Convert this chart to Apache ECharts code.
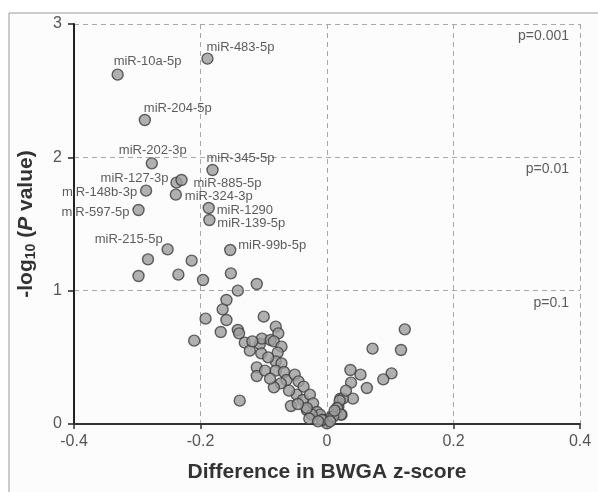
<!DOCTYPE html>
<html>
<head>
<meta charset="UTF-8" />
<title>BWGA volcano plot</title>
<script src="https://cdn.jsdelivr.net/npm/echarts@6/dist/echarts.min.js"></script>
<style>
  html, body { margin:0; padding:0; width:100%; height:100%; background:#fff; overflow:hidden; }
  #chart { width:598px; height:492px; }
</style>
</head>
<body>
<div id="chart"></div>
<script>
/* ==== data ==== */
const labelNames = ['miR-10a-5p','miR-483-5p','miR-204-5p','miR-202-3p','miR-345-5p','miR-127-3p','miR-885-5p',
  'miR-148b-3p','miR-324-3p','miR-597-5p','miR-1290','miR-139-5p','miR-215-5p','miR-99b-5p'];
const labelX = [-0.331,-0.189,-0.288,-0.277,-0.181,-0.238,-0.230,-0.286,-0.239,-0.298,-0.187,-0.186,-0.252,-0.153];
const labelY = [2.62,2.74,2.28,1.955,1.905,1.81,1.83,1.75,1.72,1.605,1.62,1.53,1.31,1.305];

const otherX = [-0.283,-0.214,-0.298,-0.235,-0.196,-0.152,-0.141,-0.111,-0.159,
  -0.165,-0.159,-0.192,-0.100,-0.168,-0.210,-0.141,-0.139,-0.130,-0.122,-0.106,-0.104,-0.103,-0.089,-0.081,
  -0.077,-0.084,-0.072,-0.078,-0.081,-0.072,-0.111,-0.111,-0.098,-0.081,-0.068,-0.064,-0.073,-0.084,-0.051,
  -0.045,-0.037,-0.048,-0.057,-0.138,-0.038,-0.027,-0.032,-0.022,-0.016,-0.011,-0.006,0.000,0.007,0.015,
  0.023,0.021,0.018,-0.024,
  0.123,0.072,0.117,0.037,0.053,0.038,0.102,0.089,0.063,0.041,0.025,0.020,0.016,0.022,0.010,-0.008,-0.032,
  -0.093,-0.060,-0.046,-0.028,-0.014,0.005,0.012,0.030,-0.090,-0.118];
const otherY = [1.235,1.225,1.11,1.12,1.08,1.13,1.00,1.05,0.93,
  0.86,0.78,0.79,0.805,0.69,0.625,0.705,0.68,0.61,0.55,0.60,0.53,0.64,0.63,0.73,
  0.68,0.62,0.58,0.535,0.47,0.455,0.425,0.36,0.40,0.40,0.39,0.33,0.305,0.275,0.37,
  0.32,0.28,0.22,0.135,0.175,0.18,0.22,0.105,0.155,0.09,0.07,0.03,0.005,0.055,0.08,
  0.07,0.19,0.13,0.07,
  0.71,0.565,0.555,0.405,0.37,0.31,0.38,0.335,0.27,0.19,0.19,0.175,0.12,0.07,0.055,0.03,0.12,
  0.50,0.25,0.15,0.04,0.02,0.02,0.10,0.25,0.34,0.62];

const pText = ['p=0.001','p=0.01','p=0.1'];
const pY = [3,2,1];

/* label placement next to each named point: [align, dx, dy] */
const labelPlace = {
  'miR-10a-5p':['left',-4,-13], 'miR-483-5p':['left',-1,-11], 'miR-204-5p':['left',-1,-12],
  'miR-202-3p':['center',1,-13], 'miR-345-5p':['left',-6,-12], 'miR-127-3p':['right',-8,-4],
  'miR-885-5p':['left',12,3], 'miR-148b-3p':['right',-9,2], 'miR-324-3p':['left',9,2],
  'miR-597-5p':['right',-9,2], 'miR-1290':['left',8,2], 'miR-139-5p':['left',8,3],
  'miR-215-5p':['right',-5,-10], 'miR-99b-5p':['left',8,-5]
};

const FONT = 'Liberation Sans, Arial, sans-serif';
const dotStyle = { color:'#9c9c9c', borderColor:'#3c3c3c', borderWidth:1.4 };

const chart = echarts.init(document.getElementById('chart'));
chart.setOption({
  animation:false,
  textStyle:{ fontFamily:FONT },
  graphic:[{
    type:'rect', z:-10, silent:true,
    shape:{ x:9, y:13, width:620, height:500 },
    style:{ fill:'#fcfcfc', stroke:'#9a9a9a', lineWidth:1 }
  }],
  grid:{ left:74, right:18, top:24, bottom:68 },
  xAxis:{
    type:'value', min:-0.4, max:0.4, interval:0.2,
    name:'Difference in BWGA z-score', nameLocation:'middle', nameGap:38,
    nameTextStyle:{ fontSize:21, fontWeight:'bold', color:'#333' },
    axisLine:{ onZero:false, lineStyle:{ color:'#333', width:2 } },
    axisTick:{ show:true, length:5, lineStyle:{ color:'#333', width:1.5 } },
    axisLabel:{ fontSize:16, color:'#555', margin:10,
      formatter:v=>v===0?'0':v.toFixed(1) },
    splitLine:{ show:true, lineStyle:{ color:'#a8a8a8', type:[5,4], width:1 } }
  },
  yAxis:{
    type:'value', min:0, max:3, interval:1,
    name:'{a|-log}{s|10}{a| (}{p|P}{a| value)}', nameLocation:'middle', nameGap:36, nameRotate:90,
    nameTextStyle:{
      rich:{
        a:{ fontSize:21, fontWeight:'bold', color:'#333', fontFamily:FONT },
        s:{ fontSize:14, fontWeight:'bold', color:'#333', fontFamily:FONT, verticalAlign:'bottom', padding:[10,0,0,0] },
        p:{ fontSize:21, fontWeight:'bold', fontStyle:'italic', color:'#333', fontFamily:FONT }
      }
    },
    axisLine:{ show:true, onZero:false, lineStyle:{ color:'#222', width:2 } },
    axisTick:{ show:true, length:6, lineStyle:{ color:'#222', width:1.5 } },
    axisLabel:{ fontSize:16, color:'#555', margin:12 },
    splitLine:{ show:true, lineStyle:{ color:'#a8a8a8', type:[5,4], width:1 } }
  },
  series:[
    {
      type:'scatter', symbolSize:11, itemStyle:dotStyle,
      data:otherX.map((x,i)=>[x, otherY[i]])
    },
    {
      type:'scatter', symbolSize:11, itemStyle:dotStyle,
      data:labelNames.map((n,i)=>{
        const [align,dx,dy] = labelPlace[n];
        return { name:n, value:[labelX[i], labelY[i]],
          label:{ show:true, position:'inside', align, verticalAlign:'middle', offset:[dx,dy],
            formatter:'{b}', fontSize:13, color:'#333', fontFamily:FONT } };
      })
    },
    {
      type:'scatter', symbolSize:0, silent:true,
      data:pText.map((t,i)=>({ name:t, value:[0.4, pY[i]] })),
      label:{ show:true, position:'inside', align:'right', verticalAlign:'middle', offset:[-11,12],
        formatter:'{b}', fontSize:14, color:'#333', fontFamily:FONT }
    }
  ]
});
</script>
</body>
</html>
